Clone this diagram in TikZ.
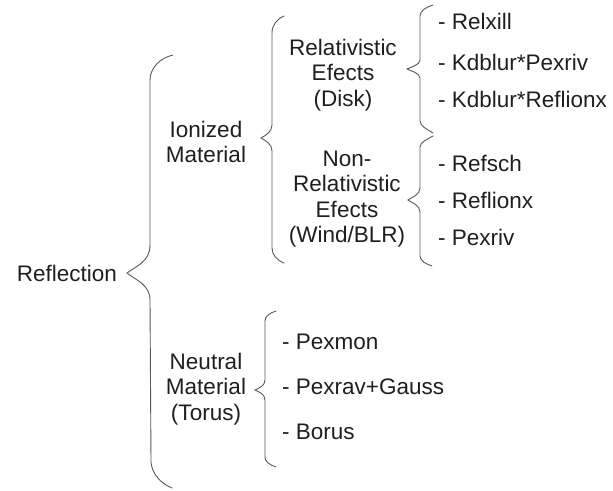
\documentclass[tikz,border=0pt]{standalone}
\usepackage{fontspec}
\setmainfont{Liberation Sans}
\begin{document}
\begin{tikzpicture}[x=1pt,y=-1pt,
  lbl/.style={inner sep=0pt,align=center,text=black!88,font=\fontsize{22.5}{25.5}\selectfont},
  leaf/.style={inner sep=0pt,anchor=west,text=black!88,font=\fontsize{22.5}{25}\selectfont},
  brace/.style={draw=black!65,line width=0.9pt,line cap=round}]
\useasboundingbox (0,0) rectangle (613,490);
% category labels
\node[lbl] (refl) at (67,273) {Reflection};
\node[lbl] (ion) at (206,142) {Ionized\\Material};
\node[lbl] (neu) at (206,389) {Neutral\\Material\\(Torus)};
\node[lbl] (disk) at (343,75) {Relativistic\\Efects\\(Disk)};
\node[lbl] (nrel) at (347,199) {Non-\\Relativistic\\Efects\\(Wind/BLR)};
% leaves
\node[leaf] (l1) at (438,21) {- Relxill};
\node[leaf] (l2) at (438,62) {- Kdblur*Pexriv};
\node[leaf] (l3) at (438,99) {- Kdblur*Reflionx};
\node[leaf] (l4) at (438,163) {- Refsch};
\node[leaf] (l5) at (438,200) {- Reflionx};
\node[leaf] (l6) at (438,237) {- Pexriv};
\node[leaf] (l7) at (282,342) {- Pexmon};
\node[leaf] (l8) at (282,387) {- Pexrav+Gauss};
\node[leaf] (l9) at (282,432) {- Borus};
% braces
% Reflection
\draw[brace] (173,55) .. controls (160,58) and (150,68) .. (150,80) -- (150,245)
  .. controls (150,262) and (136,266) .. (127,273)
  .. controls (136,280) and (150,285) .. (150,300) -- (151,462)
  .. controls (152,475) and (162,484) .. (172,488);
% Ionized
\draw[brace] (284,16) .. controls (277,19) and (272,25) .. (272,33) -- (272,125)
  .. controls (272,132) and (266,135) .. (261,138)
  .. controls (266,141) and (272,144) .. (272,151) -- (272,248)
  .. controls (272,255) and (277,260) .. (284,263);
% Disk
\draw[brace] (433,5) .. controls (426,7) and (420,11) .. (420,16) -- (420,60)
  .. controls (420,65) and (411,67) .. (407,69)
  .. controls (411,71) and (420,73) .. (420,78) -- (420,121)
  .. controls (420,126) and (428,130) .. (433,133);
% Non-relativistic
\draw[brace] (433,136) .. controls (428,139) and (420,142) .. (420,147) -- (420,188)
  .. controls (420,195) and (412,197) .. (408,200)
  .. controls (412,203) and (420,205) .. (420,212) -- (420,256)
  .. controls (420,261) and (426,264) .. (432,266);
% Neutral
\draw[brace] (276,311) .. controls (270,313) and (265,316) .. (265,321) -- (265,380)
  .. controls (265,386) and (259,388) .. (255,390)
  .. controls (259,392) and (265,394) .. (265,400) -- (265,457)
  .. controls (265,462) and (270,465) .. (276,467);
\end{tikzpicture}
\end{document}
